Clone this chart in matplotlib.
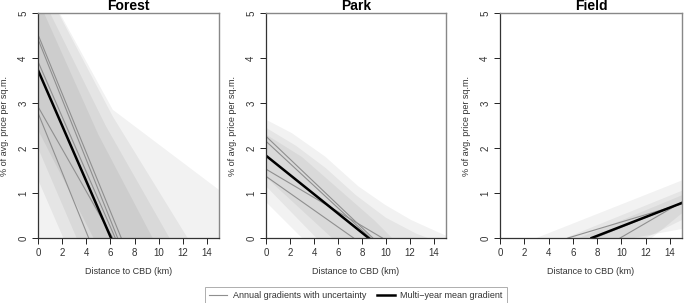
import matplotlib
matplotlib.use("Agg")
import matplotlib.pyplot as plt
from matplotlib.lines import Line2D

plt.rcParams['font.family'] = ['Liberation Sans', 'DejaVu Sans']

# ---------------- data ----------------
panel_titles = ["Forest", "Park", "Field"]
x_ticks = [0, 2, 4, 6, 8, 10, 12, 14]
y_ticks = [0, 1, 2, 3, 4, 5]

# Annual gradients (declining): value at distance 0 and distance where it hits 0
forest_annual_y0 = [4.52, 4.42, 3.92, 2.92, 2.78]
forest_annual_xcross = [6.9, 6.6, 6.4, 6.2, 4.2]
forest_mean_y0 = 3.73
forest_mean_xcross = 6.05

park_annual_y0 = [2.26, 2.15, 1.53, 1.37]
park_annual_xcross = [8.9, 8.7, 9.7, 7.3]
park_mean_y0 = 1.83
park_mean_xcross = 8.55

# Field (rising): distance where it leaves 0 and value at 15 km
field_annual_xcross = [5.6, 9.9, 7.8]
field_annual_y15 = [0.76, 0.80, 0.78]
field_mean_xcross = 7.55
field_mean_y15 = 0.78

# Uncertainty bands: upper boundary (left->right) and lower boundary (right->left)
forest_band_upper_x = [[0, 1.8, 6.2, 15], [0, 1.7, 6.2, 12.4], [0, 1.0, 5.6, 10.9],
                       [0, 0.5, 5.0, 9.5]]
forest_band_upper_y = [[6.5, 5.0, 2.85, 1.07], [6.2, 5.0, 2.7, 0.0], [5.6, 5.0, 2.5, 0.0],
                       [5.3, 5.0, 2.3, 0.0]]
forest_band_lower_x = [[15, 0], [2.1, 0], [3.2, 0], [4.6, 0]]
forest_band_lower_y = [[0.0, 0.0], [0.0, 1.3], [0.0, 2.0], [0.0, 2.4]]

park_band_upper_x = [[0, 2.16, 4.93, 7.69, 9.91, 12.1, 15],
                     [0, 2.5, 5.0, 7.5, 10.0, 12.5, 13.5],
                     [0, 3.0, 6.0, 9.0, 10.5]]
park_band_upper_y = [[2.63, 2.33, 1.81, 1.15, 0.74, 0.40, 0.05],
                     [2.45, 2.05, 1.55, 0.95, 0.45, 0.10, 0.0],
                     [2.30, 1.80, 1.10, 0.40, 0.0]]
park_band_lower_x = [[15, 3.0, 0], [4.2, 0], [5.5, 0]]
park_band_lower_y = [[0.0, 0.0, 0.8], [0.0, 1.15], [0.0, 1.35]]

field_band_upper_x = [[3.0, 15], [5.4, 15], [6.5, 15]]
field_band_upper_y = [[0.0, 1.28], [0.0, 1.05], [0.0, 0.95]]
field_band_lower_x = [[15, 11.0], [15, 12.0], [15, 12.5]]
field_band_lower_y = [[0.2, 0.0], [0.4, 0.0], [0.55, 0.0]]

# ---------------- figure ----------------
W, H = 684, 303
fig = plt.figure(figsize=(W / 100, H / 100), dpi=100)

axes_px = [(38, 219), (266, 446), (500, 682)]
top_px, bot_px = 13, 238

band_alpha = 0.05
annual_color = '#8f8f8f'
fs_tick = 7
fs_lab = 6.5


def draw_bands(ax, ux, uy, lx, ly):
    for a, b, c, d in zip(ux, uy, lx, ly):
        ax.fill(list(a) + list(c), list(b) + list(d), color='black',
                alpha=band_alpha, linewidth=0)


for i, title in enumerate(panel_titles):
    l, r = axes_px[i]
    ax = fig.add_axes([l / W, (H - bot_px) / H, (r - l) / W, (bot_px - top_px) / H])
    if i == 0:
        draw_bands(ax, forest_band_upper_x, forest_band_upper_y,
                   forest_band_lower_x, forest_band_lower_y)
        for y0, xc in zip(forest_annual_y0, forest_annual_xcross):
            ax.plot([0, xc], [y0, 0], color=annual_color, lw=0.8)
        ax.plot([0, forest_mean_xcross], [forest_mean_y0, 0], color='black', lw=1.8)
    elif i == 1:
        draw_bands(ax, park_band_upper_x, park_band_upper_y,
                   park_band_lower_x, park_band_lower_y)
        for y0, xc in zip(park_annual_y0, park_annual_xcross):
            ax.plot([0, xc], [y0, 0], color=annual_color, lw=0.8)
        ax.plot([0, park_mean_xcross], [park_mean_y0, 0], color='black', lw=1.8)
    else:
        draw_bands(ax, field_band_upper_x, field_band_upper_y,
                   field_band_lower_x, field_band_lower_y)
        for xc, y15 in zip(field_annual_xcross, field_annual_y15):
            ax.plot([xc, 15], [0, y15], color=annual_color, lw=0.8)
        ax.plot([field_mean_xcross, 15], [0, field_mean_y15], color='black', lw=1.8)

    ax.set_xlim(0, 15)
    ax.set_ylim(0, 5)
    ax.set_xticks(x_ticks)
    ax.set_yticks(y_ticks)
    ax.set_xticklabels([str(t) for t in x_ticks], fontsize=fs_tick, color='#333333')
    ax.set_yticklabels([str(t) for t in y_ticks], fontsize=fs_tick, color='#333333',
                       rotation=90, va='center')
    ax.tick_params(axis='both', length=4, width=0.7, color='#222222', pad=3)
    for side in ['top', 'right']:
        ax.spines[side].set_color('#888888')
        ax.spines[side].set_linewidth(1.0)
    for side in ['left', 'bottom']:
        ax.spines[side].set_color('#333333')
        ax.spines[side].set_linewidth(0.9)
    ax.set_xlabel("Distance to CBD (km)", fontsize=fs_lab, color='#333333', labelpad=7)
    ax.set_ylabel("% of avg. price per sq.m.", fontsize=fs_lab, color='#333333', labelpad=7)
    ax.set_title(title, fontsize=10, fontweight='bold', pad=0, y=1.0, va='bottom')

handles = [Line2D([0], [0], color=annual_color, lw=0.8),
           Line2D([0], [0], color='black', lw=1.8)]
labels = ["Annual gradients with uncertainty", "Multi\u2212year mean gradient"]
leg = fig.legend(handles, labels, loc='upper center',
                 bbox_to_anchor=(356 / W, 1 - 287 / H), ncol=2, fontsize=fs_lab,
                 frameon=True, fancybox=False, edgecolor='#999999',
                 handlelength=2.0, columnspacing=1.2, borderpad=0.45,
                 borderaxespad=0.0, handletextpad=0.6)
leg.get_frame().set_linewidth(0.7)
for t in leg.get_texts():
    t.set_color('#333333')

fig.savefig("out.png", dpi=100)
